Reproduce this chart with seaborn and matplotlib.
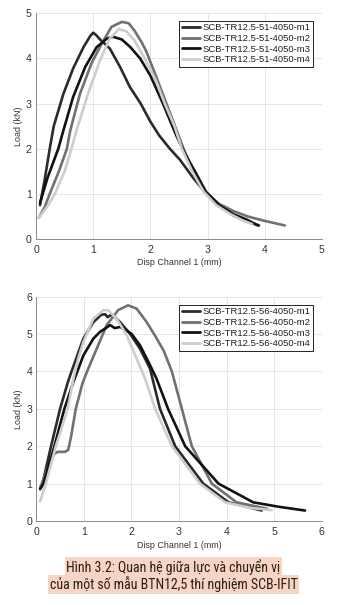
import matplotlib
matplotlib.use("Agg")
import matplotlib.pyplot as plt
import pandas as pd
import seaborn as sns
from matplotlib import font_manager

# ---- SCB-TR12.5-51-4050 : load (kN) vs Disp Channel 1 (mm) ----
labels_51 = ["SCB-TR12.5-51-4050-m1", "SCB-TR12.5-51-4050-m2",
             "SCB-TR12.5-51-4050-m3", "SCB-TR12.5-51-4050-m4"]
s51_m1_x = [0.07, 0.15, 0.24, 0.31, 0.48, 0.65, 0.83, 0.95, 1.0, 1.05, 1.12, 1.29, 1.47,
            1.64, 1.83, 2.0, 2.15, 2.34, 2.52, 2.75, 2.98, 3.2, 3.45, 3.7, 3.9]
s51_m1_y = [0.75, 1.3, 2.0, 2.5, 3.22, 3.78, 4.25, 4.5, 4.57, 4.52, 4.42, 4.22, 3.81,
            3.37, 3.0, 2.6, 2.3, 2.0, 1.75, 1.35, 1.0, 0.75, 0.52, 0.38, 0.3]
s51_m2_x = [0.05, 0.15, 0.24, 0.4, 0.54, 0.6, 0.77, 0.97, 1.15, 1.32, 1.5, 1.62, 1.72, 1.85,
            1.93, 2.1, 2.28, 2.43, 2.58, 2.75, 2.95, 3.2, 3.45, 3.7, 4.0, 4.35]
s51_m2_y = [0.47, 0.7, 1.0, 1.5, 2.0, 2.41, 3.22, 3.89, 4.33, 4.7, 4.81, 4.78, 4.62, 4.35,
            4.15, 3.6, 3.0, 2.5, 2.0, 1.5, 1.05, 0.78, 0.62, 0.5, 0.4, 0.3]
s51_m3_x = [0.07, 0.2, 0.39, 0.48, 0.65, 0.86, 1.06, 1.24, 1.35, 1.5, 1.65, 1.82, 2.0,
            2.22, 2.45, 2.6, 2.8, 2.97, 3.2, 3.45, 3.7, 3.88]
s51_m3_y = [0.8, 1.35, 2.0, 2.41, 3.15, 3.81, 4.25, 4.44, 4.48, 4.42, 4.25, 4.0, 3.62,
            3.0, 2.3, 1.9, 1.45, 1.05, 0.75, 0.55, 0.42, 0.3]
s51_m4_x = [0.05, 0.2, 0.33, 0.5, 0.62, 0.71, 0.91, 1.12, 1.29, 1.45, 1.58, 1.72, 1.9,
            2.1, 2.25, 2.42, 2.55, 2.73, 2.93, 3.15, 3.4, 3.6, 3.78]
s51_m4_y = [0.47, 0.72, 1.0, 1.5, 2.0, 2.41, 3.22, 3.96, 4.44, 4.65, 4.6, 4.4, 4.0,
            3.5, 3.0, 2.5, 2.0, 1.5, 1.05, 0.75, 0.55, 0.42, 0.33]

# ---- SCB-TR12.5-56-4050 ----
labels_56 = ["SCB-TR12.5-56-4050-m1", "SCB-TR12.5-56-4050-m2",
             "SCB-TR12.5-56-4050-m3", "SCB-TR12.5-56-4050-m4"]
s56_m1_x = [0.08, 0.13, 0.31, 0.5, 0.66, 0.74, 0.99, 1.2, 1.37, 1.45, 1.5, 1.55, 1.62,
            1.76, 1.97, 2.18, 2.39, 2.6, 2.92, 3.51, 4.04, 4.74]
s56_m1_y = [0.88, 1.0, 2.0, 3.0, 3.7, 4.0, 4.88, 5.32, 5.52, 5.53, 5.45, 5.5, 5.5,
            5.32, 5.01, 4.61, 4.08, 3.0, 2.0, 1.0, 0.5, 0.28]
s56_m2_x = [0.08, 0.2, 0.3, 0.38, 0.45, 0.6, 0.67, 0.73, 0.83, 0.97, 1.08, 1.27, 1.48,
            1.72, 1.93, 2.11, 2.32, 2.5, 2.68, 2.85, 3.06, 3.27, 3.69, 4.21, 4.85]
s56_m2_y = [0.88, 1.3, 1.62, 1.8, 1.85, 1.85, 1.9, 2.25, 3.0, 3.68, 4.04, 4.61, 5.24,
            5.64, 5.77, 5.68, 5.32, 4.95, 4.55, 4.0, 3.0, 2.0, 1.0, 0.5, 0.33]
s56_m3_x = [0.08, 0.15, 0.38, 0.59, 0.78, 0.99, 1.2, 1.34, 1.45, 1.55, 1.6, 1.65, 1.76,
            1.86, 2.0, 2.18, 2.36, 2.53, 2.77, 3.13, 3.83, 4.56, 5.1, 5.65]
s56_m3_y = [0.85, 1.0, 2.0, 3.0, 3.72, 4.43, 4.88, 5.06, 5.15, 5.24, 5.2, 5.16, 5.19,
            5.13, 5.01, 4.7, 4.25, 3.8, 3.0, 2.0, 1.0, 0.5, 0.38, 0.28]
s56_m4_x = [0.08, 0.2, 0.41, 0.66, 0.78, 0.88, 0.99, 1.2, 1.41, 1.51, 1.69, 1.9, 2.11,
            2.29, 2.5, 2.85, 3.44, 3.97, 4.5, 4.95]
s56_m4_y = [0.52, 1.0, 2.0, 3.0, 3.8, 4.34, 4.79, 5.41, 5.64, 5.64, 5.41, 4.97, 4.34,
            3.8, 3.0, 2.0, 1.0, 0.5, 0.35, 0.29]

caption_lines = ["Hình 3.2: Quan hệ giữa lực và chuyển vị",
                 "của một số mẫu BTN12,5 thí nghiệm SCB-IFIT"]

line_colors = ["#2b2b2b", "#717171", "#121212", "#cdcdcd"]

sns.set_theme(style="whitegrid")
plt.rcParams["font.family"] = ["Liberation Sans", "DejaVu Sans"]

fig = plt.figure(figsize=(3.37, 6.05), dpi=100)
fig.patch.set_facecolor("white")

W, H = 337, 605


def axes_px(left, top, right, bottom):
    return fig.add_axes([left / W, 1 - bottom / H, (right - left) / W, (bottom - top) / H])


def panel(ax, xs, ys, labels, xmax, ymax, anchor, xl_y, yl_x):
    for x, y, lab, c in zip(xs, ys, labels, line_colors):
        df = pd.DataFrame({"disp": x, "load": y})
        sns.lineplot(data=df, x="disp", y="load", ax=ax, sort=False, estimator=None,
                     color=c, linewidth=1.9, label=lab)
    ax.set_xlim(0, xmax)
    ax.set_ylim(0, ymax)
    ax.set_xticks(range(0, xmax + 1))
    ax.set_yticks(range(0, ymax + 1))
    ax.set_facecolor("white")
    ax.grid(True, color="#e2e2e2", linewidth=0.6)
    for side in ("top", "right"):
        ax.spines[side].set_visible(False)
    for side in ("left", "bottom"):
        ax.spines[side].set_color("#8a8a8a")
        ax.spines[side].set_linewidth(0.7)
    ax.tick_params(direction="in", length=2.5, width=0.6, color="#8a8a8a",
                   labelsize=7.6, labelcolor="#333333")
    ax.tick_params(axis="x", pad=4)
    ax.tick_params(axis="y", pad=3)
    ax.set_xlabel("Disp Channel 1 (mm)", fontsize=6.4, color="#333333")
    ax.set_ylabel("Load (kN)", fontsize=6.4, color="#333333")
    ax.xaxis.set_label_coords(0.5, xl_y)
    ax.yaxis.set_label_coords(yl_x, 0.5)
    leg = ax.legend(loc="upper right", bbox_to_anchor=anchor, borderaxespad=0,
                    fontsize=6.8, frameon=True, fancybox=False, edgecolor="#222222",
                    framealpha=1, borderpad=0.25, labelspacing=0.17,
                    handlelength=1.9, handletextpad=0.3)
    leg.get_frame().set_linewidth(0.7)
    for t in leg.get_texts():
        t.set_color("#222222")
    for h in leg.get_lines():
        h.set_linewidth(2.0)


ax1 = axes_px(36, 13.3, 322, 239)
panel(ax1, [s51_m1_x, s51_m2_x, s51_m3_x, s51_m4_x],
      [s51_m1_y, s51_m2_y, s51_m3_y, s51_m4_y], labels_51, 5, 5,
      (0.9685, 0.966), -0.086, -0.045)

ax2 = axes_px(36.3, 296.7, 321.7, 521)
panel(ax2, [s56_m1_x, s56_m2_x, s56_m3_x, s56_m4_x],
      [s56_m1_y, s56_m2_y, s56_m3_y, s56_m4_y], labels_56, 6, 6,
      (0.9695, 0.963), -0.091, -0.046)

# caption, highlighted line by line
available = {f.name for f in font_manager.fontManager.ttflist}
cap_font = "Roboto"
for cand in ("Roboto Condensed", "Open Sans Condensed", "Noto Sans Condensed"):
    if cand in available:
        cap_font = cand
        break

cap_texts = []
for line, yc in zip(caption_lines, (566.7, 584.3)):
    t = fig.text(0.5148, 1 - yc / H, line, ha="center", va="center", fontsize=8.4,
                 family=[cap_font, "DejaVu Sans"], color="#2a1d17",
                 bbox=dict(boxstyle="square,pad=0.12", fc="#f8d4c4", ec="none"))
    cap_texts.append(t)

fig.canvas.draw()
r = fig.canvas.get_renderer()
w2 = cap_texts[1].get_window_extent(r).width
scale = 246.0 / w2
for t in cap_texts:
    t.set_fontsize(8.4 * scale)

fig.savefig("out.png", dpi=100, facecolor="white")
